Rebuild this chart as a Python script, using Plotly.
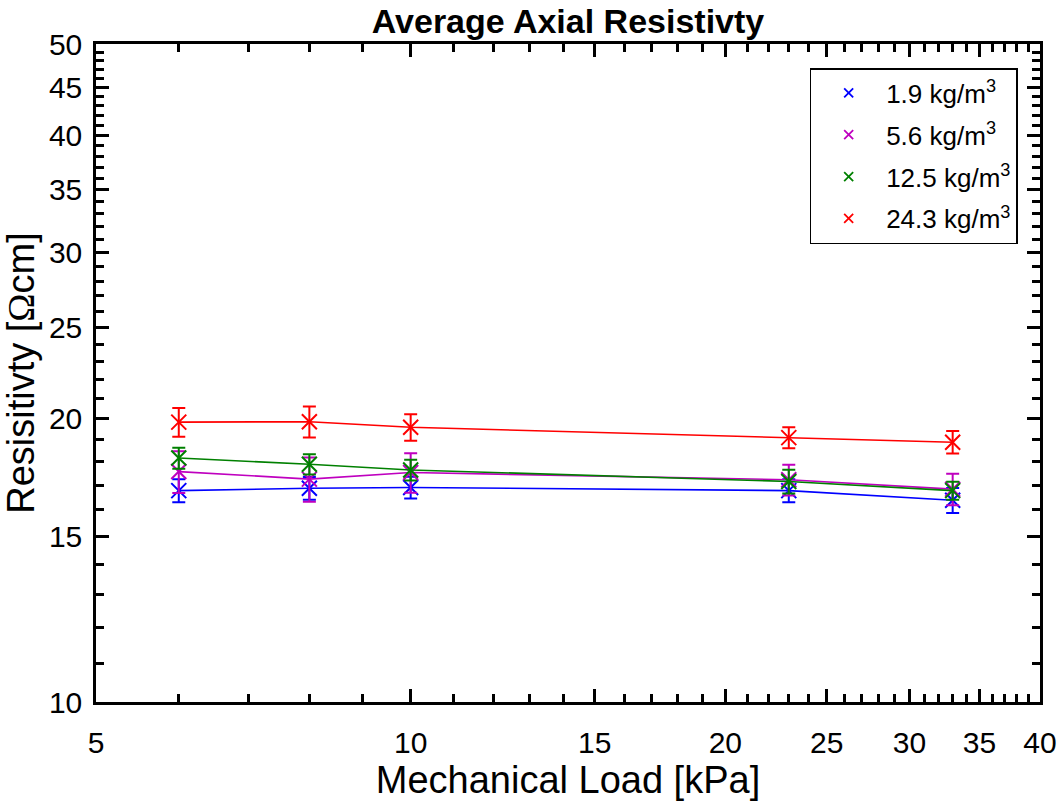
import plotly.graph_objects as go

# ---- data ----
load_kpa = [6, 8, 10, 23, 33]
series_names = ["1.9 kg/m<sup>3</sup>", "5.6 kg/m<sup>3</sup>", "12.5 kg/m<sup>3</sup>", "24.3 kg/m<sup>3</sup>"]
res_19 = [16.77, 16.87, 16.90, 16.77, 16.38]
err_19 = [0.47, 0.47, 0.45, 0.47, 0.50]
res_56 = [17.57, 17.25, 17.53, 17.22, 16.83]
err_56 = [0.90, 0.93, 0.85, 0.65, 0.65]
res_125 = [18.16, 17.89, 17.64, 17.15, 16.77]
err_125 = [0.47, 0.44, 0.45, 0.50, 0.37]
res_243 = [19.83, 19.85, 19.58, 19.09, 18.88]
err_243 = [0.70, 0.75, 0.63, 0.49, 0.52]
colors = ["#0000ff", "#bf00bf", "#008000", "#ff0000"]

x_major = [5, 10, 15, 20, 25, 30, 35, 40]
x_minor = [v for v in range(5, 41) if v not in x_major]
y_major = [10, 15, 20, 25, 30, 35, 40, 45, 50]
y_minor = [v for v in range(10, 51) if v not in y_major]

values = [res_19, res_56, res_125, res_243]
errors = [err_19, err_56, err_125, err_243]

fig = go.Figure()
for i, (name, ys, es, c) in enumerate(zip(series_names, values, errors, colors)):
    fig.add_trace(go.Scatter(
        x=load_kpa, y=ys, mode="lines+markers", showlegend=False,
        line=dict(color=c, width=1.6),
        marker=dict(symbol="x-thin", size=15, line=dict(color=c, width=2)),
        error_y=dict(type="data", array=es, visible=True, color=c, thickness=2, width=6.5),
    ))
for i, (name, c) in enumerate(zip(series_names, colors)):
    fig.add_trace(go.Scatter(
        x=[None], y=[None], mode="markers", name=name, legendgroup="g%d" % i,
        marker=dict(symbol="x-thin", size=9, line=dict(color=c, width=1.8)),
    ))

font_family = "Liberation Sans, Arial, sans-serif"
fig.update_layout(
    width=1061, height=802,
    margin=dict(l=96, r=21, t=44, b=100),
    paper_bgcolor="white", plot_bgcolor="white",
    font=dict(family=font_family, color="black"),
    title=dict(text="<b>Average Axial Resistivty</b>", x=0.5, xref="paper",
               y=1 - 21 / 802, yref="container", yanchor="middle",
               font=dict(size=34, family=font_family, color="black")),
    legend=dict(x=0.756, y=0.9635, xanchor="left", yanchor="top",
                bgcolor="white", bordercolor="black", borderwidth=1.5,
                font=dict(size=26, family=font_family, color="black"),
                traceorder="grouped", tracegroupgap=5, itemwidth=65),
    showlegend=True,
)
fig.update_xaxes(
    type="log", range=[0.69897, 1.60206], automargin=False,
    tickmode="array", tickvals=x_major, ticktext=[str(v) for v in x_major],
    ticks="inside", ticklen=13, tickwidth=2.5, tickcolor="black",
    showline=True, linecolor="black", linewidth=2.5, mirror="ticks",
    showgrid=False, zeroline=False,
    tickfont=dict(size=30, family=font_family, color="black"),
    ticklabelstandoff=12,
    minor=dict(tickmode="array", tickvals=x_minor, ticks="inside", ticklen=8,
               tickwidth=2.5, tickcolor="black", showgrid=False),
    title=dict(text="Mechanical Load [kPa]", standoff=8,
               font=dict(size=38, family=font_family, color="black")),
)
fig.update_yaxes(
    type="log", range=[1.0, 1.69897], automargin=False,
    tickmode="array", tickvals=y_major, ticktext=[str(v) for v in y_major],
    ticks="inside", ticklen=13, tickwidth=2.5, tickcolor="black",
    showline=True, linecolor="black", linewidth=2.5, mirror="ticks",
    showgrid=False, zeroline=False,
    tickfont=dict(size=30, family=font_family, color="black"),
    ticklabelstandoff=5,
    minor=dict(tickmode="array", tickvals=y_minor, ticks="inside", ticklen=8,
               tickwidth=2.5, tickcolor="black", showgrid=False),
    title=dict(text="Resisitivty [<span style=\"font-family:'Liberation Serif'\">Ω</span>cm]", standoff=14,
               font=dict(size=38, family=font_family, color="black")),
)

fig.write_html("out.html")
